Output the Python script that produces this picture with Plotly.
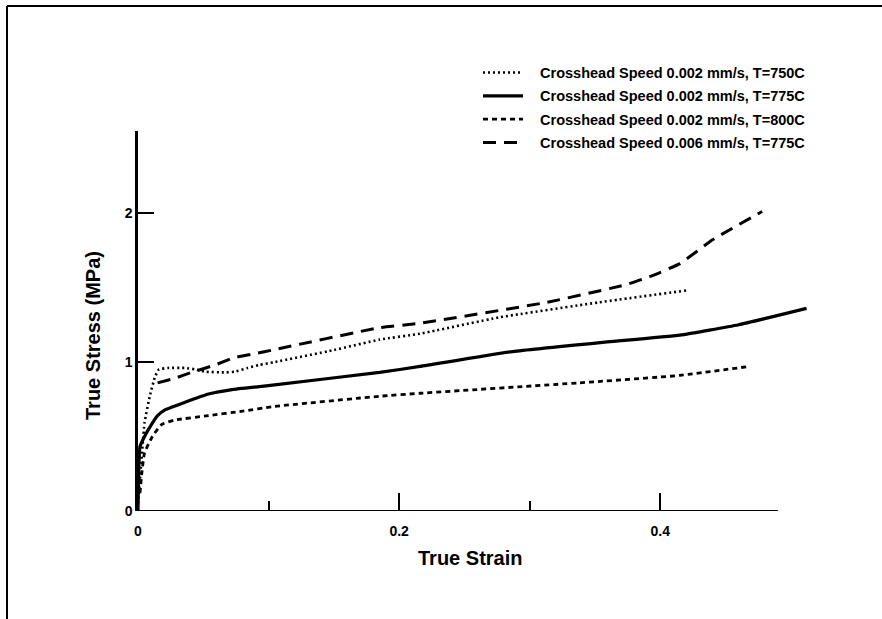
import plotly.graph_objects as go

# True stress-strain curves, Crosshead speed / temperature series
strain_750 = [0.0, 0.0015, 0.005, 0.009, 0.013, 0.016, 0.023, 0.036, 0.044, 0.051,
              0.067, 0.074, 0.084, 0.093, 0.105, 0.15, 0.185, 0.216, 0.277, 0.353, 0.42]
stress_750 = [0.05, 0.21, 0.59, 0.77, 0.90, 0.95, 0.96, 0.96, 0.95, 0.935,
              0.93, 0.935, 0.96, 0.98, 1.00, 1.08, 1.15, 1.19, 1.30, 1.40, 1.48]

strain_775 = [0.0, 0.0015, 0.005, 0.011, 0.015, 0.021, 0.036, 0.054, 0.072, 0.093,
              0.103, 0.185, 0.216, 0.287, 0.354, 0.415, 0.46, 0.512]
stress_775 = [0.0, 0.43, 0.50, 0.59, 0.64, 0.68, 0.73, 0.785, 0.815, 0.835,
              0.845, 0.93, 0.97, 1.07, 1.13, 1.18, 1.25, 1.36]

strain_800 = [0.0015, 0.003, 0.005, 0.011, 0.018, 0.028, 0.054, 0.08, 0.103,
              0.185, 0.216, 0.338, 0.415, 0.468]
stress_800 = [0.12, 0.26, 0.39, 0.50, 0.58, 0.61, 0.64, 0.67, 0.70,
              0.77, 0.79, 0.86, 0.91, 0.97]

strain_fast = [0.015, 0.028, 0.041, 0.059, 0.074, 0.092, 0.103, 0.185, 0.216,
               0.313, 0.374, 0.394, 0.415, 0.44, 0.478]
stress_fast = [0.86, 0.89, 0.93, 0.98, 1.03, 1.06, 1.08, 1.23, 1.26,
               1.40, 1.52, 1.58, 1.66, 1.82, 2.01]

labels = [
    "Crosshead Speed 0.002 mm/s, T=750C",
    "Crosshead Speed 0.002 mm/s, T=775C",
    "Crosshead Speed 0.002 mm/s, T=800C",
    "Crosshead Speed 0.006 mm/s, T=775C",
]

x_ticks = [0, 0.2, 0.4]
x_tick_text = ["0", "0.2", "0.4"]
x_minor = [0.1, 0.3]
y_ticks = [0, 1, 2]
y_tick_text = ["0", "1", "2"]

FONT = "Liberation Sans, Arial, sans-serif"
GAP = "&nbsp;&nbsp;&nbsp;"  # space between legend sample and its text

series = [
    (strain_750, stress_750, labels[0], dict(width=2.6, dash="2px,3px")),
    (strain_775, stress_775, labels[1], dict(width=3.2, dash="solid")),
    (strain_800, stress_800, labels[2], dict(width=2.8, dash="5px,4px")),
    (strain_fast, stress_fast, labels[3], dict(width=3.0, dash="13px,8px")),
]

fig = go.Figure()
for i, (xs, ys, name, line) in enumerate(series):
    fig.add_trace(go.Scatter(
        x=xs, y=ys, mode="lines", name=GAP + name,
        line=dict(color="black", shape="spline", smoothing=0.4, **line),
        legendgroup=f"g{i}",
    ))

fig.update_layout(
    width=882, height=619,
    margin=dict(l=138, r=65, t=131, b=108),
    paper_bgcolor="white", plot_bgcolor="white",
    showlegend=True,
    legend=dict(
        x=(478 - 138) / 679, y=1.196, xanchor="left", yanchor="top",
        font=dict(family=FONT, size=14.5, color="black", weight="bold"),
        bgcolor="rgba(0,0,0,0)", tracegroupgap=1.5, itemwidth=40,
    ),
    xaxis=dict(
        range=[0, 0.52], showline=False, showgrid=False, zeroline=False,
        tickmode="array", tickvals=x_ticks, ticktext=x_tick_text,
        ticks="inside", ticklen=18, tickwidth=1.5, tickcolor="black",
        minor=dict(tickmode="array", tickvals=x_minor, ticks="inside",
                   ticklen=10, tickwidth=1.5, tickcolor="black"),
        tickfont=dict(family=FONT, size=14, color="black", weight="bold"),
        ticklabelstandoff=10,
    ),
    yaxis=dict(
        range=[0, 2.55], showline=True, linecolor="black", linewidth=2.5,
        showgrid=False, zeroline=False,
        tickmode="array", tickvals=y_ticks, ticktext=y_tick_text,
        ticks="inside", ticklen=16, tickwidth=1.5, tickcolor="black",
        tickfont=dict(family=FONT, size=14, color="black", weight="bold"),
    ),
    annotations=[
        dict(text="True Strain", xref="paper", yref="paper",
             x=(470 - 138) / 679, y=(511 - 558) / 380,
             showarrow=False, xanchor="center", yanchor="middle",
             font=dict(family=FONT, size=20, color="black", weight="bold")),
        dict(text="True Stress (MPa)", xref="paper", yref="paper",
             x=(93 - 138) / 679, y=(511 - 336) / 380, textangle=-90,
             showarrow=False, xanchor="center", yanchor="middle",
             font=dict(family=FONT, size=20, color="black", weight="bold")),
    ],
    shapes=[
        # horizontal axis line, shorter than the plotting range
        dict(type="line", xref="x", yref="y", x0=0, x1=0.49, y0=0, y1=0,
             line=dict(color="black", width=2)),
        # page frame (top and left edges)
        dict(type="line", xref="paper", yref="paper",
             x0=(7 - 138) / 679, x1=(882 - 138) / 679,
             y0=(511 - 6) / 380, y1=(511 - 6) / 380,
             line=dict(color="black", width=2)),
        dict(type="line", xref="paper", yref="paper",
             x0=(7 - 138) / 679, x1=(7 - 138) / 679,
             y0=(511 - 6) / 380, y1=(511 - 619) / 380,
             line=dict(color="black", width=2)),
    ],
)

fig.write_html("out.html")
